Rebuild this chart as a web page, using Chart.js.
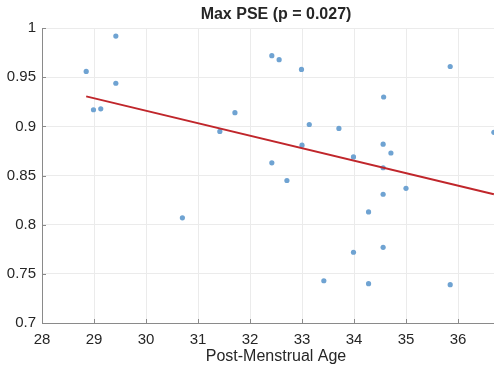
<!DOCTYPE html>
<html>
<head>
<meta charset="utf-8">
<script src="https://cdn.jsdelivr.net/npm/chart.js@4"></script>
<style>
html, body { margin: 0; padding: 0; overflow: hidden; background: #fff; }
#wrap { width: 514px; height: 369px; }
</style>
</head>
<body>
<div id="wrap"><canvas id="pseChart"></canvas></div>
<script>
// post-menstrual age (weeks) and max PSE per subject
const ageValues = [28.85, 28.99, 29.13, 29.42, 29.42, 31.42, 31.71, 30.70,
    32.42, 32.56, 32.99, 34.57, 35.85, 33.14, 33.71, 36.69, 33.00, 34.56,
    34.71, 33.99, 34.56, 32.42, 32.71, 35.00, 34.56, 34.28, 33.99, 34.56,
    33.42, 34.28, 35.85];
const pseValues = [0.956, 0.917, 0.918, 0.992, 0.944, 0.895, 0.914, 0.807,
    0.972, 0.968, 0.958, 0.930, 0.961, 0.902, 0.898, 0.894, 0.881, 0.882,
    0.873, 0.869, 0.858, 0.863, 0.845, 0.837, 0.831, 0.813, 0.772, 0.777,
    0.743, 0.740, 0.739];
// fitted trend line, read at its two ends
const fitAge = [28.85, 36.69];
const fitPse = [0.9306, 0.831];
const xTickValues = [28, 29, 30, 31, 32, 33, 34, 35, 36];
const yTickValues = [0.7, 0.75, 0.8, 0.85, 0.9, 0.95, 1];

const axisColor = '#8a8a8a';
const textColor = '#262626';

// matlab style ticks pointing into the axes
const innerTicks = {
    id: 'innerTicks',
    afterDraw(chart) {
        const c = chart.ctx;
        const area = chart.chartArea;
        const xs = chart.scales.x, ys = chart.scales.y;
        c.save();
        c.strokeStyle = axisColor;
        c.lineWidth = 1;
        c.beginPath();
        xs.ticks.forEach(t => {
            const px = Math.round(xs.getPixelForValue(t.value)) + 0.5;
            c.moveTo(px, area.bottom);
            c.lineTo(px, area.bottom - 4);
        });
        ys.ticks.forEach(t => {
            const py = Math.round(ys.getPixelForValue(t.value)) + 0.5;
            c.moveTo(area.left, py);
            c.lineTo(area.left + 4, py);
        });
        c.stroke();
        c.restore();
    }
};

const ctx = document.getElementById('pseChart').getContext('2d');
new Chart(ctx, {
    type: 'scatter',
    data: {
        datasets: [{
            label: 'Max PSE',
            data: ageValues.map((a, i) => ({ x: a, y: pseValues[i] })),
            backgroundColor: '#6fa3d2',
            borderWidth: 0,
            pointRadius: 2.6,
            order: 2
        }, {
            label: 'fit',
            data: fitAge.map((a, i) => ({ x: a, y: fitPse[i] })),
            showLine: true,
            borderColor: '#c0262b',
            borderWidth: 2,
            pointRadius: 0,
            order: 1
        }]
    },
    options: {
        responsive: true,
        maintainAspectRatio: false,
        animation: false,
        layout: { padding: 0 },
        scales: {
            x: {
                type: 'linear',
                min: 28,
                max: 37,
                afterBuildTicks: s => { s.ticks = xTickValues.map(v => ({ value: v })); },
                afterFit: s => { s.height = 46; },
                grid: { color: '#ebebeb', drawTicks: false },
                border: { color: axisColor },
                ticks: {
                    color: textColor,
                    padding: 8,
                    font: { family: 'Liberation Sans', size: 15 }
                },
                title: {
                    display: true,
                    text: 'Post-Menstrual Age',
                    color: textColor,
                    padding: { top: 0, bottom: 3 },
                    font: { family: 'Liberation Sans', size: 16 }
                }
            },
            y: {
                min: 0.7,
                max: 1,
                afterBuildTicks: s => { s.ticks = yTickValues.map(v => ({ value: v })); },
                afterFit: s => { s.width = 42; },
                grid: { color: '#ebebeb', drawTicks: false },
                border: { color: axisColor },
                ticks: {
                    color: textColor,
                    padding: 6,
                    font: { family: 'Liberation Sans', size: 15 },
                    callback: v => String(+v.toFixed(2))
                }
            }
        },
        plugins: {
            legend: { display: false },
            tooltip: { enabled: false },
            title: {
                display: true,
                fullSize: false,
                text: 'Max PSE (p = 0.027)',
                color: textColor,
                padding: { top: 5, bottom: 4 },
                font: { family: 'Liberation Sans', size: 16, weight: 'bold' }
            }
        }
    },
    plugins: [innerTicks]
});
</script>
</body>
</html>
